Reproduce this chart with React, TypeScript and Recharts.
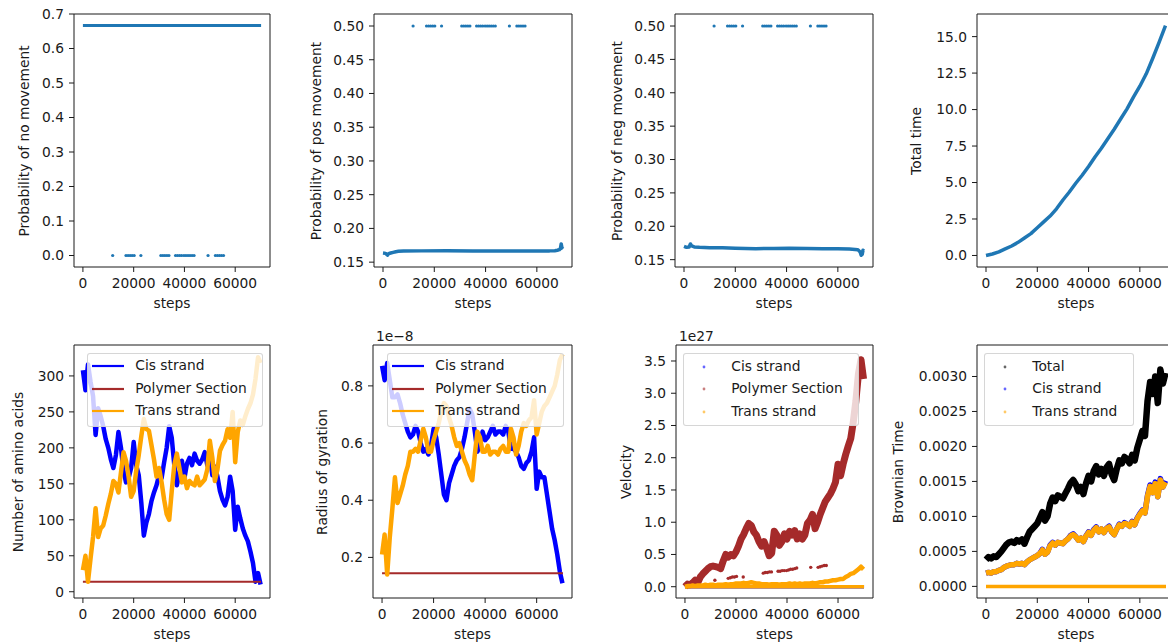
import React from "react";
import { ComposedChart, Line, Scatter, XAxis, YAxis, ReferenceArea, Legend } from "recharts";

const FONT = '"DejaVu Sans", "Liberation Sans", sans-serif';
const FONT_SIZE = 13.8;
const INK = "#1a1a1a";
const MPL_BLUE = "#1f77b4";
const BLUE = "#0000ff";
const BROWN = "#a52a2a";
const ORANGE = "#ffa500";
const BLACK = "#000000";

// ---- top row: movement probabilities and elapsed time ----
const noMoveSteps = [0, 70200];
const noMoveProb = [0.6667, 0.6667];

const posSteps = [0, 1000, 1800, 2200, 3000, 4000, 5000, 6000, 8000, 15000, 25000, 35000, 45000, 55000, 65000, 67000, 68000, 68800, 69200, 69500, 69800, 70200];
const posProb = [0.1635, 0.163, 0.1605, 0.1625, 0.1635, 0.1645, 0.1655, 0.166, 0.1665, 0.1667, 0.1668, 0.1667, 0.1667, 0.1667, 0.1667, 0.167, 0.1676, 0.1685, 0.1705, 0.177, 0.171, 0.1695];

const negSteps = [0, 1000, 2000, 2500, 3000, 4000, 6000, 10000, 15000, 20000, 28000, 35000, 41000, 48000, 54000, 60000, 64500, 67800, 68700, 69100, 69500, 69800, 70200];
const negProb = [0.17, 0.1685, 0.169, 0.1735, 0.1705, 0.169, 0.1685, 0.168, 0.1678, 0.1672, 0.1665, 0.1668, 0.167, 0.1666, 0.1665, 0.1663, 0.166, 0.165, 0.1615, 0.1565, 0.158, 0.164, 0.163];

// steps where the strand jumped (no-move prob 0, pos/neg prob 0.5)
const jumpSteps = [11730, 16970, 17800, 18600, 19400, 20200, 22840, 30700, 31500, 32300, 33100, 33900, 36500, 37300, 38100, 38900, 39800, 40600, 41400, 42200, 43000, 43800, 49300, 52200, 53000, 53800, 54600, 55400];
const JUMP_NO_MOVE = 0;
const JUMP_POS = 0.5;
const JUMP_NEG = 0.5;

const timeSteps = [0, 2500, 5000, 7500, 10000, 12500, 15000, 17500, 20000, 22500, 25000, 27500, 30000, 32500, 35000, 37500, 40000, 42500, 45000, 47500, 50000, 52500, 55000, 57500, 60000, 62500, 65000, 67500, 70000];
const totalTime = [0, 0.1, 0.25, 0.45, 0.65, 0.9, 1.2, 1.5, 1.9, 2.3, 2.7, 3.2, 3.8, 4.35, 4.95, 5.5, 6.1, 6.75, 7.35, 8.0, 8.65, 9.35, 10.05, 10.85, 11.6, 12.45, 13.5, 14.6, 15.76];

// ---- bottom row: strand statistics sampled every 1000 steps ----
const steps = [
  0, 1000, 2000, 3000, 4000, 5000, 6000, 7000, 8000, 9000,
  10000, 11000, 12000, 13000, 14000, 15000, 16000, 17000, 18000, 19000,
  20000, 21000, 22000, 23000, 24000, 25000, 26000, 27000, 28000, 29000,
  30000, 31000, 32000, 33000, 34000, 35000, 36000, 37000, 38000, 39000,
  40000, 41000, 42000, 43000, 44000, 45000, 46000, 47000, 48000, 49000,
  50000, 51000, 52000, 53000, 54000, 55000, 56000, 57000, 58000, 59000,
  60000, 61000, 62000, 63000, 64000, 65000, 66000, 67000, 68000, 69000,
  70000,
];

const cisAmino = [
  308, 280, 316, 292, 272, 218, 255, 244, 230, 212,
  200, 184, 172, 190, 222, 200, 168, 152, 158, 172,
  208, 176, 162, 124, 78, 96, 108, 126, 138, 148,
  162, 158, 180, 200, 230, 214, 176, 148, 164, 182,
  158, 178, 186, 176, 192, 182, 178, 184, 194, 176,
  192, 162, 174, 160, 140, 128, 120, 132, 160, 140,
  86, 118, 102, 88, 78, 70, 56, 40, 14, 26,
  10,
];
const transAmino = [
  30, 50, 14, 46, 76, 116, 76, 88, 92, 106,
  122, 136, 154, 150, 138, 166, 194, 182, 160, 132,
  140, 168, 190, 216, 240, 226, 224, 204, 184, 160,
  172, 152, 128, 108, 100, 140, 176, 192, 172, 152,
  160, 144, 154, 150, 148, 160, 148, 152, 156, 170,
  210, 186, 154, 170, 196, 204, 210, 226, 214, 250,
  180, 222, 238, 232, 244, 254, 262, 274, 296, 326,
  318,
];
const polymerSteps = [0, 70200];
const polymerAmino = [14, 14];

// radius of gyration, in units of 1e-8
const cisRadius = [
  0.87, 0.82, 0.88, 0.82, 0.76, 0.76, 0.77, 0.74, 0.7, 0.67,
  0.64, 0.62, 0.63, 0.66, 0.64, 0.6, 0.57, 0.58, 0.56, 0.59,
  0.65, 0.62, 0.56, 0.49, 0.42, 0.4, 0.46, 0.49, 0.52, 0.54,
  0.55, 0.58, 0.62, 0.67, 0.72, 0.7, 0.64, 0.57, 0.59, 0.64,
  0.61, 0.62, 0.64, 0.66, 0.63, 0.64, 0.64, 0.63, 0.66, 0.64,
  0.58, 0.58, 0.57, 0.55, 0.52, 0.51, 0.53, 0.54, 0.57, 0.62,
  0.44, 0.5, 0.48, 0.48, 0.42, 0.36, 0.3, 0.26, 0.21, 0.15,
  0.11,
];
const transRadius = [
  0.21, 0.28, 0.14, 0.27, 0.37, 0.48, 0.39, 0.42, 0.45, 0.49,
  0.52, 0.57, 0.57, 0.58, 0.57, 0.61, 0.65, 0.62, 0.57, 0.57,
  0.61, 0.64, 0.67, 0.71, 0.74, 0.73, 0.69, 0.66, 0.62, 0.59,
  0.6, 0.57, 0.54, 0.52, 0.49, 0.47, 0.56, 0.64, 0.62, 0.57,
  0.57, 0.59, 0.56, 0.57, 0.57, 0.56, 0.58, 0.59, 0.57, 0.57,
  0.65, 0.62, 0.56, 0.59, 0.64, 0.67, 0.66, 0.68, 0.69, 0.75,
  0.63, 0.67, 0.71, 0.73, 0.74, 0.76, 0.78, 0.8, 0.84, 0.89,
  0.91,
];
const polymerRadius = [0.145, 0.145];

// velocities, in units of 1e27
const polymerVelocity = [
  0.0, 0.04, 0.03, 0.06, 0.1, 0.06, 0.15, 0.2, 0.24, 0.28,
  0.31, 0.32, 0.31, 0.3, 0.28, 0.4, 0.5, 0.46, 0.5, 0.48,
  0.54, 0.63, 0.74, 0.81, 0.9, 0.98, 0.95, 0.85, 0.8, 0.7,
  0.63, 0.7, 0.6, 0.48, 0.52, 0.86, 0.8, 0.64, 0.7, 0.82,
  0.74, 0.86, 0.8, 0.87, 0.74, 0.82, 0.74, 0.8, 0.98, 1.03,
  1.12, 0.9, 1.0, 1.12, 1.22, 1.32, 1.38, 1.44, 1.52, 1.62,
  1.9, 1.72, 1.9, 2.05, 2.18, 2.3, 2.56, 2.88, 3.3, 3.52,
  3.22,
];
const transVelocity = [
  0.0, 0.01, 0.01, 0.02, 0.01, 0.02, 0.02, 0.02, 0.03, 0.02,
  0.03, 0.03, 0.02, 0.03, 0.03, 0.03, 0.04, 0.03, 0.04, 0.04,
  0.05, 0.05, 0.05, 0.06, 0.05, 0.06, 0.07, 0.06, 0.05, 0.05,
  0.04, 0.04, 0.04, 0.03, 0.04, 0.04, 0.04, 0.03, 0.04, 0.04,
  0.04, 0.05, 0.04, 0.05, 0.04, 0.05, 0.04, 0.05, 0.05, 0.05,
  0.06, 0.05, 0.06, 0.07, 0.07, 0.08, 0.08, 0.09, 0.1, 0.1,
  0.11, 0.12, 0.12, 0.15, 0.17, 0.2, 0.21, 0.24, 0.27, 0.31,
  0.27,
];
const jumpVelocity = [0.1, 0.13, 0.14, 0.15, 0.15, 0.16, 0.15, 0.21, 0.22, 0.22, 0.23, 0.23, 0.24, 0.24, 0.25, 0.25, 0.25, 0.26, 0.27, 0.27, 0.28, 0.29, 0.3, 0.3, 0.31, 0.32, 0.33, 0.33];
const baseSteps = [0, 70200];
const cisVelocity = [0, 0];
const transVelocityBase = [0, 0];

const totalBrownian = [
  0.00038, 0.00042, 0.0004, 0.00043, 0.00042, 0.00046, 0.0005, 0.00055, 0.0006, 0.00063,
  0.00064, 0.00062, 0.00066, 0.00064, 0.00067, 0.00061, 0.0007, 0.00078, 0.00082, 0.00086,
  0.0009, 0.00098, 0.00106, 0.00094, 0.001, 0.00118, 0.00127, 0.00122, 0.0013, 0.00128,
  0.00126, 0.00133, 0.0014, 0.00148, 0.00152, 0.00146, 0.00136, 0.00142, 0.00132, 0.00147,
  0.00158, 0.0015, 0.00165, 0.00172, 0.0016, 0.00168, 0.00158, 0.0017, 0.00175, 0.0016,
  0.00152, 0.00168, 0.0018, 0.00176, 0.00185, 0.00182, 0.00176, 0.00188, 0.0018, 0.00198,
  0.0021, 0.00222, 0.00215, 0.00265, 0.00292, 0.00275, 0.003, 0.00262, 0.0031, 0.0029,
  0.00305,
];
const cisBrownian = [
  0.00019, 0.0002, 0.00019, 0.00021, 0.00021, 0.00023, 0.00024, 0.00027, 0.00029, 0.0003,
  0.00031, 0.00031, 0.00033, 0.00032, 0.00033, 0.00031, 0.00035, 0.00038, 0.0004, 0.00042,
  0.00044, 0.00047, 0.00053, 0.00046, 0.00049, 0.00059, 0.00063, 0.00059, 0.00063, 0.00062,
  0.00061, 0.00065, 0.00068, 0.00073, 0.00075, 0.00071, 0.00066, 0.00069, 0.00064, 0.00072,
  0.00078, 0.00073, 0.00081, 0.00085, 0.00078, 0.00082, 0.00077, 0.00083, 0.00086, 0.00078,
  0.00074, 0.00082, 0.00089, 0.00086, 0.00091, 0.00089, 0.00086, 0.00093, 0.00088, 0.00098,
  0.00104, 0.00109, 0.00105, 0.0013, 0.00145, 0.00134, 0.00149, 0.00128, 0.00154, 0.00142,
  0.00151,
];
const transBrownian = [
  0.00019, 0.0002, 0.00019, 0.00021, 0.00021, 0.00023, 0.00024, 0.00027, 0.00029, 0.0003,
  0.00031, 0.00031, 0.00033, 0.00032, 0.00033, 0.00031, 0.00035, 0.00038, 0.0004, 0.00042,
  0.00044, 0.00047, 0.00052, 0.00046, 0.00049, 0.00058, 0.00062, 0.00059, 0.00063, 0.00062,
  0.00061, 0.00065, 0.00068, 0.00072, 0.00074, 0.00071, 0.00066, 0.00069, 0.00064, 0.00072,
  0.00077, 0.00073, 0.0008, 0.00084, 0.00078, 0.00082, 0.00077, 0.00083, 0.00085, 0.00078,
  0.00074, 0.00082, 0.00088, 0.00086, 0.0009, 0.00089, 0.00086, 0.00092, 0.00088, 0.00097,
  0.00103, 0.00108, 0.00105, 0.00129, 0.00143, 0.00134, 0.00147, 0.00128, 0.00152, 0.00142,
  0.00149,
];
const transBrownianBase = [0, 0];

// ---- tables built from the arrays above ----
const pairs = (xs: number[], ys: number[]) => xs.map((step, i) => ({ step, v: ys[i] }));

const stepRows = steps.map((step, i) => ({
  step,
  cisAmino: cisAmino[i],
  transAmino: transAmino[i],
  cisRadius: cisRadius[i],
  transRadius: transRadius[i],
  polymerVelocity: polymerVelocity[i],
  transVelocity: transVelocity[i],
  totalBrownian: totalBrownian[i],
  cisBrownian: cisBrownian[i],
  transBrownian: transBrownian[i],
}));

const jumpRows = jumpSteps.map((step, i) => ({
  step,
  noMove: JUMP_NO_MOVE,
  pos: JUMP_POS,
  neg: JUMP_NEG,
  velocity: jumpVelocity[i],
}));

// ---- layout ----
const YW = 70;
const XH = 30;
const MT = 10;
const MR = 10;
const X_DOMAIN: [number, number] = [-3510, 73710];
const X_TICKS = [0, 20000, 40000, 60000];

type Frame = { x: number; y: number; w: number; h: number };
type LegendItem = { name: string; color: string; kind: "line" | "dot" };
type LegendSpec = { dx: number; dy: number; w: number; h: number; items: LegendItem[] };

const textStyle: React.CSSProperties = {
  position: "absolute",
  fontFamily: FONT,
  fontSize: FONT_SIZE,
  color: INK,
  whiteSpace: "nowrap",
  lineHeight: 1,
};

function LegendBox({ items }: { items: LegendItem[] }) {
  return (
    <div
      style={{
        position: "relative",
        width: "100%",
        height: "100%",
        boxSizing: "border-box",
        background: "rgba(255,255,255,0.8)",
        border: "1px solid rgba(204,204,204,0.8)",
        borderRadius: 3,
      }}
    >
      {items.map((it, i) => {
        const cy = 12.5 + i * 22.5;
        return (
          <React.Fragment key={it.name}>
            <svg style={{ position: "absolute", left: 0, top: cy - 5 }} width={44} height={10}>
              {it.kind === "line" ? (
                <line x1={4} x2={36} y1={5} y2={5} stroke={it.color} strokeWidth={2.2} />
              ) : (
                <circle cx={20} cy={5} r={1.4} fill={it.color} fillOpacity={0.6} />
              )}
            </svg>
            <div style={{ ...textStyle, left: 47, top: cy - 7 }}>{it.name}</div>
          </React.Fragment>
        );
      })}
    </div>
  );
}

type PanelProps = {
  frame: Frame;
  yDomain: [number, number];
  yTicks: number[];
  yFormat: (v: number) => string;
  yTitle: string;
  yTitleGap: number;
  data: any[];
  legend?: LegendSpec;
  exponent?: string;
  children: React.ReactNode;
};

function Panel({ frame, yDomain, yTicks, yFormat, yTitle, yTitleGap, data, legend, exponent, children }: PanelProps) {
  const tick = { fill: INK, fontSize: FONT_SIZE, fontFamily: FONT };
  return (
    <>
      <div style={{ position: "absolute", left: frame.x - YW, top: frame.y - MT }}>
        <ComposedChart
          width={YW + frame.w + MR}
          height={MT + frame.h + XH}
          data={data}
          margin={{ top: MT, right: MR, bottom: 0, left: 0 }}
        >
          <XAxis
            type="number"
            dataKey="step"
            domain={X_DOMAIN}
            ticks={X_TICKS}
            interval={0}
            allowDataOverflow
            axisLine={false}
            tickLine={{ stroke: INK }}
            tickSize={5}
            tickMargin={6}
            height={XH}
            tick={tick}
          />
          <YAxis
            type="number"
            domain={yDomain}
            ticks={yTicks}
            interval={0}
            tickFormatter={yFormat}
            allowDataOverflow
            axisLine={false}
            tickLine={{ stroke: INK }}
            tickSize={5}
            tickMargin={5}
            width={YW}
            tick={tick}
          />
          {children}
          <ReferenceArea
            x1={X_DOMAIN[0]}
            x2={X_DOMAIN[1]}
            y1={yDomain[0]}
            y2={yDomain[1]}
            fill="none"
            fillOpacity={0}
            stroke={INK}
            strokeWidth={1}
            ifOverflow="visible"
          />
          {legend && (
            <Legend
              verticalAlign="middle"
              align="center"
              wrapperStyle={{ left: YW + legend.dx, top: MT + legend.dy, width: legend.w, height: legend.h }}
              content={() => <LegendBox items={legend.items} />}
            />
          )}
        </ComposedChart>
      </div>
      <div
        style={{
          ...textStyle,
          left: frame.x + yTitleGap,
          top: frame.y + frame.h / 2,
          transform: "translate(-50%, -50%) rotate(-90deg)",
        }}
      >
        {yTitle}
      </div>
      <div
        style={{
          ...textStyle,
          left: frame.x + frame.w / 2,
          top: frame.y + frame.h + 37,
          transform: "translate(-50%, -50%)",
        }}
      >
        steps
      </div>
      {exponent && (
        <div style={{ ...textStyle, left: frame.x + 3, top: frame.y - 8, transform: "translateY(-50%)" }}>{exponent}</div>
      )}
    </>
  );
}

const dot = (color: string, r = 1.6) => (p: any) => <circle cx={p.cx} cy={p.cy} r={r} fill={color} />;

const f1 = (v: number) => v.toFixed(1);
const f2 = (v: number) => v.toFixed(2);
const f4 = (v: number) => v.toFixed(4);
const f0 = (v: number) => String(v);

const strandLegend: LegendItem[] = [
  { name: "Cis strand", color: BLUE, kind: "line" },
  { name: "Polymer Section", color: BROWN, kind: "line" },
  { name: "Trans strand", color: ORANGE, kind: "line" },
];

export default function App() {
  return (
    <div style={{ position: "absolute", left: 0, top: 0, width: 1168, height: 644, overflow: "hidden", background: "#fff" }}>
      {/* probability of no movement */}
      <Panel
        frame={{ x: 74, y: 14, w: 196, h: 253 }}
        yDomain={[-0.0333, 0.7]}
        yTicks={[0, 0.1, 0.2, 0.3, 0.4, 0.5, 0.6, 0.7]}
        yFormat={f1}
        yTitle="Probability of no movement"
        yTitleGap={-49}
        data={pairs(noMoveSteps, noMoveProb)}
      >
        <Line dataKey="v" stroke={MPL_BLUE} strokeWidth={3} dot={false} isAnimationActive={false} />
        <Scatter data={jumpRows} dataKey="noMove" shape={dot(MPL_BLUE)} isAnimationActive={false} />
      </Panel>

      {/* probability of positive movement */}
      <Panel
        frame={{ x: 374, y: 14, w: 198, h: 253 }}
        yDomain={[0.1428, 0.5178]}
        yTicks={[0.15, 0.2, 0.25, 0.3, 0.35, 0.4, 0.45, 0.5]}
        yFormat={f2}
        yTitle="Probability of pos movement"
        yTitleGap={-57}
        data={pairs(posSteps, posProb)}
      >
        <Line dataKey="v" stroke={MPL_BLUE} strokeWidth={3.5} strokeLinejoin="round" dot={false} isAnimationActive={false} />
        <Scatter data={jumpRows} dataKey="pos" shape={dot(MPL_BLUE)} isAnimationActive={false} />
      </Panel>

      {/* probability of negative movement */}
      <Panel
        frame={{ x: 675, y: 14, w: 198, h: 253 }}
        yDomain={[0.139, 0.518]}
        yTicks={[0.15, 0.2, 0.25, 0.3, 0.35, 0.4, 0.45, 0.5]}
        yFormat={f2}
        yTitle="Probability of neg movement"
        yTitleGap={-57}
        data={pairs(negSteps, negProb)}
      >
        <Line dataKey="v" stroke={MPL_BLUE} strokeWidth={3.5} strokeLinejoin="round" dot={false} isAnimationActive={false} />
        <Scatter data={jumpRows} dataKey="neg" shape={dot(MPL_BLUE)} isAnimationActive={false} />
      </Panel>

      {/* total time */}
      <Panel
        frame={{ x: 977, y: 14, w: 198, h: 253 }}
        yDomain={[-0.79, 16.55]}
        yTicks={[0, 2.5, 5, 7.5, 10, 12.5, 15]}
        yFormat={f1}
        yTitle="Total time"
        yTitleGap={-60}
        data={pairs(timeSteps, totalTime)}
      >
        <Line dataKey="v" stroke={MPL_BLUE} strokeWidth={3.5} strokeLinejoin="round" dot={false} isAnimationActive={false} />
      </Panel>

      {/* number of amino acids */}
      <Panel
        frame={{ x: 74, y: 345, w: 196, h: 253 }}
        yDomain={[-8.7, 343]}
        yTicks={[0, 50, 100, 150, 200, 250, 300]}
        yFormat={f0}
        yTitle="Number of amino acids"
        yTitleGap={-55}
        data={stepRows}
        legend={{ dx: 13.3, dy: 7.7, w: 176, h: 74, items: strandLegend }}
      >
        <Line dataKey="cisAmino" stroke={BLUE} strokeWidth={4.5} strokeLinejoin="round" dot={false} isAnimationActive={false} />
        <Line data={pairs(polymerSteps, polymerAmino)} dataKey="v" stroke={BROWN} strokeWidth={2} dot={false} isAnimationActive={false} />
        <Line dataKey="transAmino" stroke={ORANGE} strokeWidth={4.5} strokeLinejoin="round" dot={false} isAnimationActive={false} />
      </Panel>

      {/* radius of gyration */}
      <Panel
        frame={{ x: 373, y: 345, w: 199, h: 253 }}
        yDomain={[0.058, 0.943]}
        yTicks={[0.2, 0.4, 0.6, 0.8]}
        yFormat={f1}
        yTitle="Radius of gyration"
        yTitleGap={-50}
        data={stepRows}
        exponent="1e−8"
        legend={{ dx: 14.3, dy: 7.7, w: 177, h: 74, items: strandLegend }}
      >
        <Line dataKey="cisRadius" stroke={BLUE} strokeWidth={4.5} strokeLinejoin="round" dot={false} isAnimationActive={false} />
        <Line data={pairs(polymerSteps, polymerRadius)} dataKey="v" stroke={BROWN} strokeWidth={2} dot={false} isAnimationActive={false} />
        <Line dataKey="transRadius" stroke={ORANGE} strokeWidth={4.5} strokeLinejoin="round" dot={false} isAnimationActive={false} />
      </Panel>

      {/* velocity */}
      <Panel
        frame={{ x: 676, y: 345, w: 197, h: 253 }}
        yDomain={[-0.175, 3.748]}
        yTicks={[0, 0.5, 1, 1.5, 2, 2.5, 3, 3.5]}
        yFormat={f1}
        yTitle="Velocity"
        yTitleGap={-49}
        data={stepRows}
        exponent="1e27"
        legend={{
          dx: 7.3,
          dy: 8.3,
          w: 176,
          h: 73,
          items: [
            { name: "Cis strand", color: BLUE, kind: "dot" },
            { name: "Polymer Section", color: BROWN, kind: "dot" },
            { name: "Trans strand", color: ORANGE, kind: "dot" },
          ],
        }}
      >
        <Line data={pairs(baseSteps, cisVelocity)} dataKey="v" stroke={BLUE} strokeWidth={3.5} dot={false} isAnimationActive={false} />
        <Line dataKey="polymerVelocity" stroke={BROWN} strokeWidth={7} strokeLinejoin="round" dot={false} isAnimationActive={false} />
        <Scatter data={jumpRows} dataKey="velocity" shape={dot(BROWN, 1.7)} isAnimationActive={false} />
        <Line dataKey="transVelocity" stroke={ORANGE} strokeWidth={4.5} strokeLinejoin="round" dot={false} isAnimationActive={false} />
        <Line data={pairs(baseSteps, transVelocityBase)} dataKey="v" stroke={ORANGE} strokeWidth={3.5} dot={false} isAnimationActive={false} />
      </Panel>

      {/* brownian time */}
      <Panel
        frame={{ x: 977, y: 345, w: 198, h: 253 }}
        yDomain={[-0.000166, 0.00345]}
        yTicks={[0, 0.0005, 0.001, 0.0015, 0.002, 0.0025, 0.003]}
        yFormat={f4}
        yTitle="Brownian Time"
        yTitleGap={-78}
        data={stepRows}
        legend={{
          dx: 7.3,
          dy: 8.3,
          w: 150,
          h: 73,
          items: [
            { name: "Total", color: BLACK, kind: "dot" },
            { name: "Cis strand", color: BLUE, kind: "dot" },
            { name: "Trans strand", color: ORANGE, kind: "dot" },
          ],
        }}
      >
        <Line dataKey="totalBrownian" stroke={BLACK} strokeWidth={6.5} strokeLinejoin="round" dot={false} isAnimationActive={false} />
        <Line dataKey="cisBrownian" stroke={BLUE} strokeWidth={5.5} strokeLinejoin="round" dot={false} isAnimationActive={false} />
        <Line dataKey="transBrownian" stroke={ORANGE} strokeWidth={5.5} strokeLinejoin="round" dot={false} isAnimationActive={false} />
        <Line data={pairs(baseSteps, transBrownianBase)} dataKey="v" stroke={ORANGE} strokeWidth={3.5} dot={false} isAnimationActive={false} />
      </Panel>
    </div>
  );
}
